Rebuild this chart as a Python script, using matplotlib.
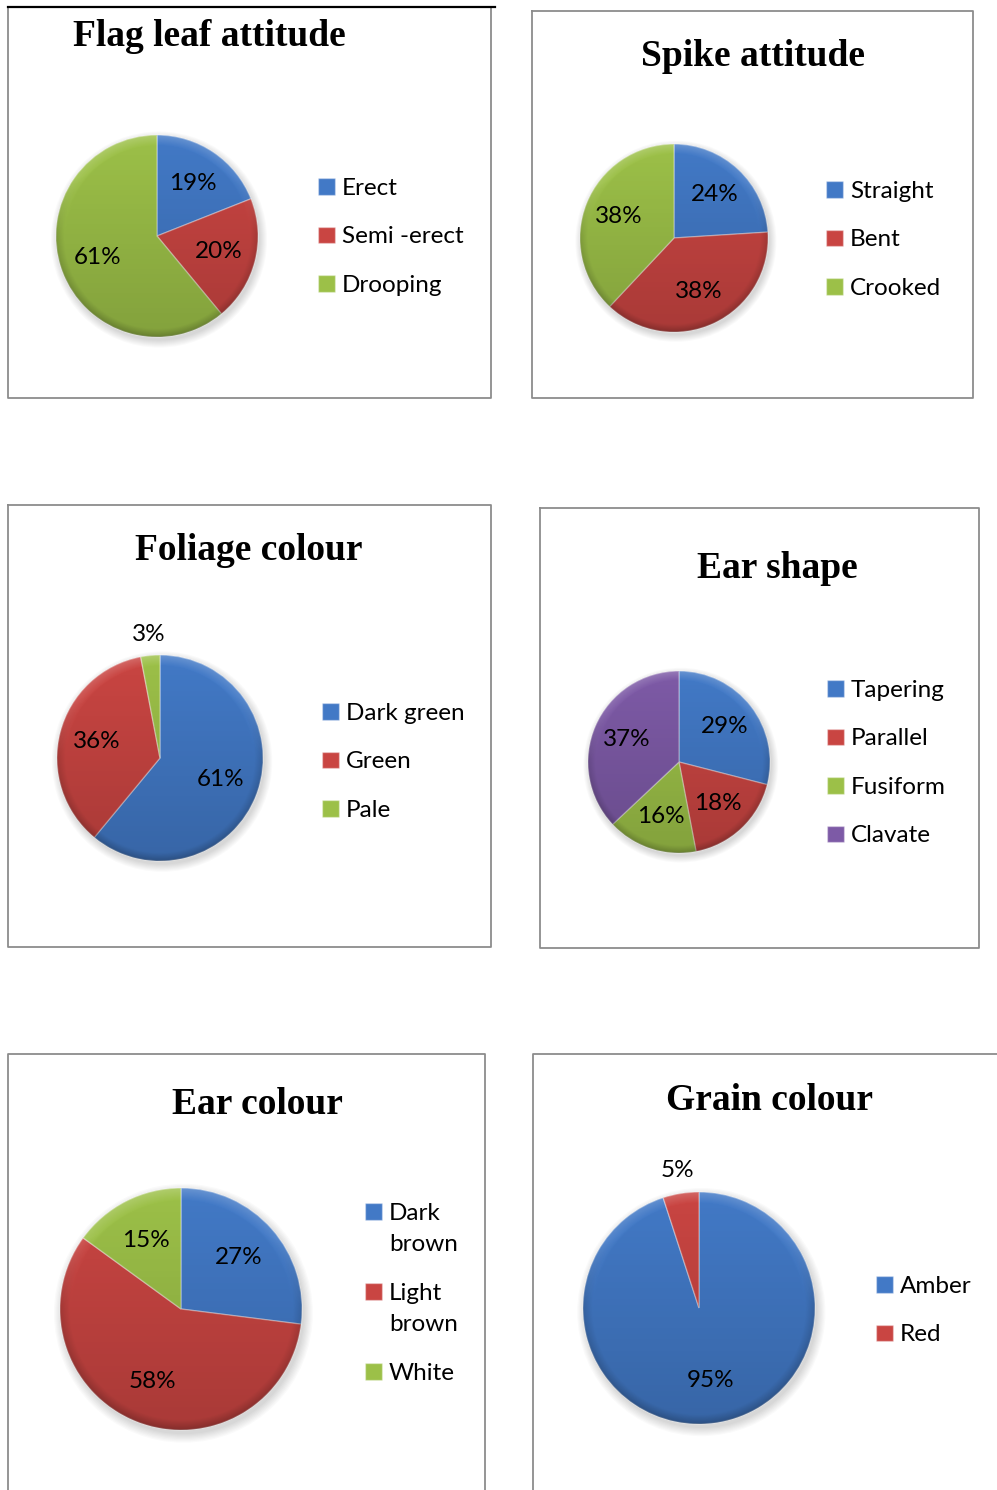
import numpy as np
import matplotlib
matplotlib.use("Agg")
import matplotlib.pyplot as plt
from matplotlib.patches import Circle, Rectangle
from matplotlib.lines import Line2D
from matplotlib.legend_handler import HandlerPatch

# ---------------- data ----------------
flag_labels = ["Erect", "Semi -erect", "Drooping"]
flag_values = [19, 20, 61]

spike_labels = ["Straight", "Bent", "Crooked"]
spike_values = [24, 38, 38]

foliage_labels = ["Dark green", "Green", "Pale"]
foliage_values = [61, 36, 3]

earshape_labels = ["Tapering", "Parallel", "Fusiform", "Clavate"]
earshape_values = [29, 18, 16, 37]

earcol_labels = ["Dark\nbrown", "Light\nbrown", "White"]
earcol_values = [27, 58, 15]

grain_labels = ["Amber", "Red"]
grain_values = [95, 5]

titles = ["Flag leaf attitude", "Spike attitude", "Foliage colour",
          "Ear shape", "Ear colour", "Grain colour"]

BLUE, RED, GREEN, PURPLE = "#4279c6", "#c94542", "#9cc048", "#7d5aa6"

W, H = 997, 1490
fig = plt.figure(figsize=(W / 100, H / 100), dpi=100)
fig.patch.set_facecolor("white")

SANS = ["Lato", "DejaVu Sans"]
SERIF = ["Liberation Serif", "DejaVu Serif"]
FS = 17.5
LINESP = 1.6


def fx(x):
    return x / W


def fy(y):
    return 1 - y / H


def fline(xs, ys, color="#8c8c8c", lw=1.3):
    fig.add_artist(Line2D([fx(x) for x in xs], [fy(y) for y in ys],
                          color=color, lw=lw, transform=fig.transFigure))


# ---------------- frames ----------------
fline([8, 8, 491, 491], [8, 398, 398, 8])
fline([8, 495], [7, 7], color="black", lw=1.6)
fline([532, 532, 973, 973, 532], [11, 398, 398, 11, 11])
fline([8, 8, 491, 491, 8], [505, 947, 947, 505, 505])
fline([540, 540, 979, 979, 540], [508, 948, 948, 508, 508])
fline([8, 8, 485, 485], [1490, 1054, 1054, 1490])
fline([533, 533, 997], [1490, 1054, 1054])


def shade_overlay(ax, clip):
    n = 300
    yy, xx = np.mgrid[1:-1:n * 1j, -1:1:n * 1j]
    rr = np.sqrt(xx ** 2 + yy ** 2)
    dark = 0.16 * (1 - yy) / 2 + 0.18 * np.clip((rr - 0.92) / 0.08, 0, 1) * (0.3 + 0.7 * (1 - yy) / 2)
    light = 0.2 * np.clip((rr - 0.9) / 0.1, 0, 1) * np.clip(yy, 0, 1)
    img = np.zeros((n, n, 4))
    img[..., 3] = np.clip(dark - light, 0, 1)
    im = ax.imshow(img, extent=[-1, 1, -1, 1], zorder=3, interpolation="bilinear")
    im.set_clip_path(clip)
    img2 = np.ones((n, n, 4))
    img2[..., 3] = np.clip(light, 0, 1)
    im2 = ax.imshow(img2, extent=[-1, 1, -1, 1], zorder=3, interpolation="bilinear")
    im2.set_clip_path(clip)


def top_aligned_handler(nlines):
    # put the square next to the first text line of a multi-line label
    def patch_func(legend, orig_handle, xdescent, ydescent, width, height, fontsize):
        off = (nlines - 1) * fontsize * LINESP * 0.5 * 0.9
        return Rectangle((-xdescent, -ydescent + off), width, height)
    return HandlerPatch(patch_func=patch_func)


def make_pie(cx, cy, r, values, colors, labels, title, tpos, leg_xy,
             labelspacing=1.13, small_dist=1.2, linespacing=1.0, pctdist=0.63):
    pad = 1.35
    s = r * pad
    ax = fig.add_axes([fx(cx - s), fy(cy + s), 2 * s / W, 2 * s / H])
    for k in range(8):
        ax.add_patch(Circle((0.02, -0.035), 1.0 + 0.01 * k, color="black",
                            alpha=0.018, lw=0, zorder=0))
    wedges, _, autotexts = ax.pie(
        values, colors=colors, startangle=90, counterclock=False, radius=1,
        autopct=lambda p: f"{p:.0f}%", pctdistance=pctdist,
        wedgeprops=dict(edgecolor=(1, 1, 1, 0.35), linewidth=1.0),
        textprops=dict(fontsize=FS, family=SANS, color="black"))
    ax.set_xlim(-pad, pad)
    ax.set_ylim(-pad, pad)
    ax.set_aspect("equal")
    ax.axis("off")
    for w in wedges:
        w.set_zorder(2)
    for t, w in zip(autotexts, wedges):
        t.set_zorder(5)
        v = w.theta2 - w.theta1
        if v < 6 * 3.6:
            ang = np.deg2rad((w.theta1 + w.theta2) / 2)
            t.set_position((small_dist * np.cos(ang), small_dist * np.sin(ang)))
    clip = Circle((0, 0), 1.0, transform=ax.transData)
    shade_overlay(ax, clip)
    fig.text(fx(tpos[0]), fy(tpos[1]), title, ha="center", va="center",
             fontsize=27, fontweight="bold", family=SERIF)
    hmap = {w: top_aligned_handler(lab.count("\n") + 1) for w, lab in zip(wedges, labels)}
    leg = fig.legend(wedges, labels, loc="upper left",
                     bbox_to_anchor=(fx(leg_xy[0]), fy(leg_xy[1])),
                     frameon=False, prop=dict(family=SANS, size=FS),
                     handlelength=0.68, handleheight=0.68, handletextpad=0.3,
                     labelspacing=labelspacing, borderpad=0, borderaxespad=0,
                     handler_map=hmap)
    for t in leg.get_texts():
        t.set_linespacing(linespacing)
    return ax


make_pie(157, 236, 101, flag_values, [BLUE, RED, GREEN], flag_labels,
         titles[0], (209, 36), (318, 178))
make_pie(674, 238, 94, spike_values, [BLUE, RED, GREEN], spike_labels,
         titles[1], (753, 56), (826, 181))
make_pie(160, 758, 103, foliage_values, [BLUE, RED, GREEN], foliage_labels,
         titles[2], (249, 551), (322, 703))
make_pie(679, 762, 91, earshape_values, [BLUE, RED, GREEN, PURPLE], earshape_labels,
         titles[3], (777, 568), (827, 680))
make_pie(181, 1309, 121, earcol_values, [BLUE, RED, GREEN], earcol_labels,
         titles[4], (257, 1105), (365, 1203), linespacing=LINESP, labelspacing=1.15,
         pctdist=0.64)
make_pie(699, 1308, 116, grain_values, [BLUE, RED], grain_labels,
         titles[5], (769, 1100), (876, 1276))

fig.savefig("out.png", dpi=100, facecolor="white")
